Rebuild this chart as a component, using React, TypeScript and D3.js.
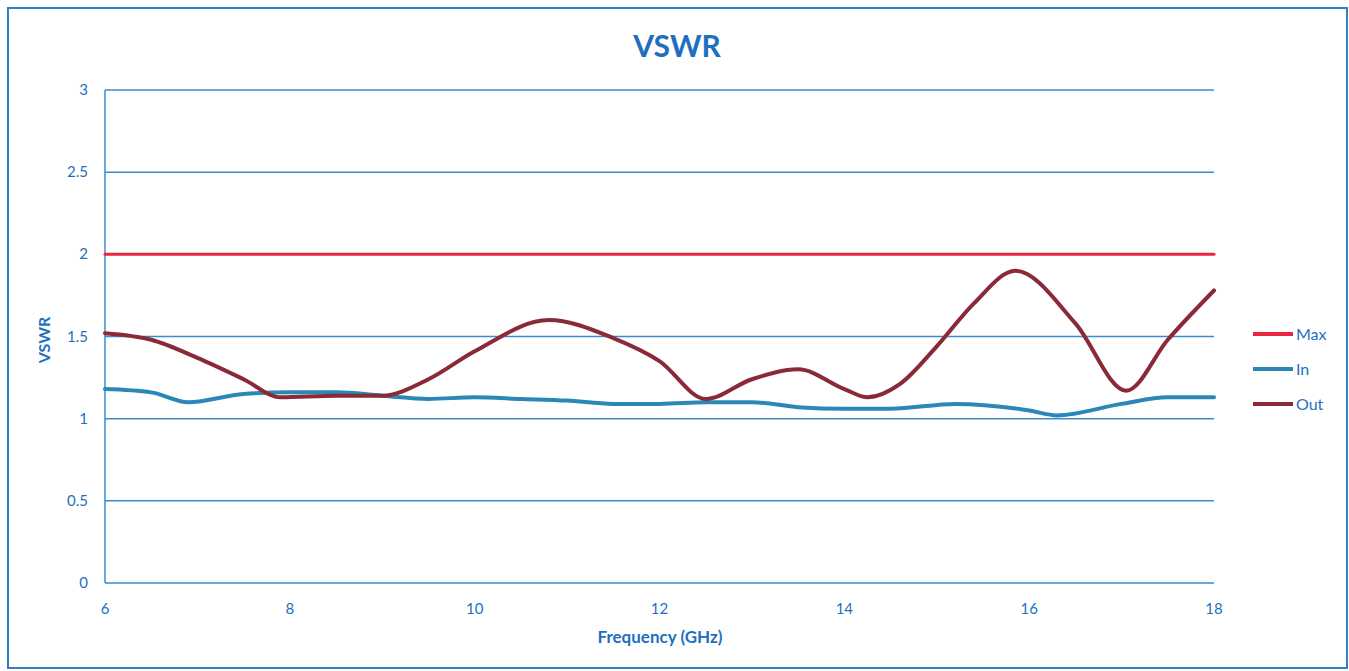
import React from "react";
import * as d3 from "d3";

const title = "VSWR";
const xTitle = "Frequency (GHz)";
const yTitle = "VSWR";
const xTicks = [6, 8, 10, 12, 14, 16, 18];
const yTicks = [0, 0.5, 1, 1.5, 2, 2.5, 3];

const maxFreq = [6, 18];
const maxVals = [2, 2];

const inFreq = [6, 6.5, 6.9, 7.5, 8, 8.5, 9, 9.5, 10, 10.5, 11, 11.5, 12, 12.5, 13, 13.5, 14, 14.5, 15.2, 16, 16.3, 17, 17.5, 18];
const inVals = [1.18, 1.16, 1.1, 1.15, 1.16, 1.16, 1.14, 1.12, 1.13, 1.12, 1.11, 1.09, 1.09, 1.1, 1.1, 1.07, 1.06, 1.06, 1.09, 1.05, 1.02, 1.09, 1.13, 1.13];

const outFreq = [6, 6.5, 7, 7.5, 7.9, 8.5, 9, 9.5, 10, 10.8, 11.5, 12, 12.5, 13, 13.5, 14, 14.25, 14.6, 15, 15.4, 15.85, 16.5, 17.05, 17.5, 18];
const outVals = [1.52, 1.48, 1.37, 1.24, 1.13, 1.14, 1.14, 1.24, 1.41, 1.6, 1.49, 1.35, 1.12, 1.24, 1.3, 1.18, 1.13, 1.21, 1.44, 1.7, 1.9, 1.58, 1.17, 1.48, 1.78];

const seriesNames = ["Max", "In", "Out"];
const seriesColors = ["#e8263e", "#2b87b6", "#8a2a38"];

const W = 1349;
const H = 671;
const TEXT = "#1f6fc0";
const GRID = "#3a8bd0";
const FONT = "Lato, 'Open Sans', sans-serif";

export default function App() {
  const x = d3.scaleLinear().domain([6, 18]).range([105, 1214]);
  const y = d3.scaleLinear().domain([0, 3]).range([583, 90]);
  const line = d3
    .line<[number, number]>()
    .x((d) => x(d[0]))
    .y((d) => y(d[1]))
    .curve(d3.curveMonotoneX);

  const series = [
    { f: maxFreq, v: maxVals, w: 3 },
    { f: inFreq, v: inVals, w: 4 },
    { f: outFreq, v: outVals, w: 4 },
  ];

  return (
    <svg
      width={W}
      height={H}
      style={{ position: "absolute", left: 0, top: 0, background: "#fff" }}
      fontFamily={FONT}
    >
      <rect x={8} y={8} width={1339} height={660} fill="#fff" stroke="#2f80c8" strokeWidth={2} />
      <text x={677} y={57} textAnchor="middle" fontSize={30} fontWeight="bold" fill={TEXT}>
        {title}
      </text>
      {yTicks.map((t) => (
        <g key={t}>
          <line x1={x(6)} x2={x(18)} y1={y(t)} y2={y(t)} stroke={GRID} strokeWidth={1.5} />
          <text x={88} y={y(t) + 5} textAnchor="end" fontSize={15} fill={TEXT}>
            {t}
          </text>
        </g>
      ))}
      <line x1={x(6)} x2={x(6)} y1={y(3)} y2={y(0)} stroke={GRID} strokeWidth={1.5} />
      {xTicks.map((t) => (
        <text key={t} x={x(t)} y={614} textAnchor="middle" fontSize={15} fill={TEXT}>
          {t}
        </text>
      ))}
      <text x={660} y={643} textAnchor="middle" fontSize={17} fontWeight="bold" fill={TEXT}>
        {xTitle}
      </text>
      <text
        transform={`translate(50,340) rotate(-90)`}
        textAnchor="middle"
        fontSize={16}
        fontWeight="bold"
        fill={TEXT}
      >
        {yTitle}
      </text>
      {series.map((s, i) => (
        <path
          key={i}
          d={line(s.f.map((f, j) => [f, s.v[j]] as [number, number])) || ""}
          fill="none"
          stroke={seriesColors[i]}
          strokeWidth={s.w}
          strokeLinecap="round"
        />
      ))}
      {seriesNames.map((n, i) => (
        <g key={n}>
          <line
            x1={1253}
            x2={1293}
            y1={334 + i * 35}
            y2={334 + i * 35}
            stroke={seriesColors[i]}
            strokeWidth={4}
          />
          <text x={1296} y={334 + i * 35 + 6} fontSize={16} fill={TEXT}>
            {n}
          </text>
        </g>
      ))}
    </svg>
  );
}
